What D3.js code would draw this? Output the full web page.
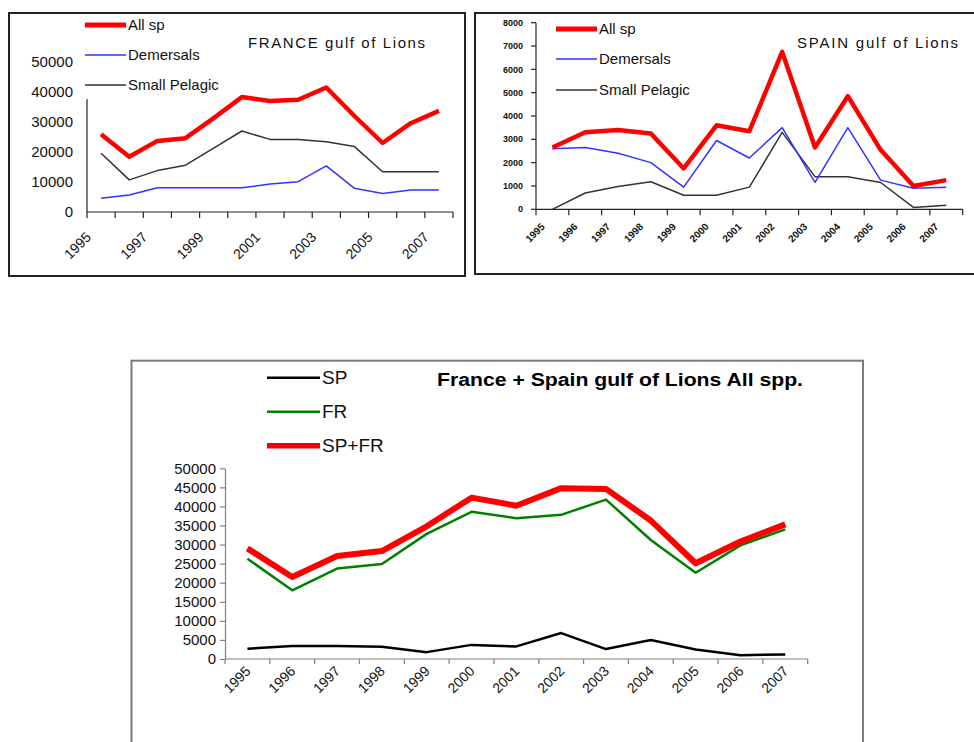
<!DOCTYPE html>
<html>
<head>
<meta charset="utf-8">
<script src="https://cdn.jsdelivr.net/npm/d3@7"></script>
<style>
  body { margin: 0; background: #fff; }
  svg { display: block; font-family: "Liberation Sans", Arial, sans-serif; }
</style>
</head>
<body>
<div id="chart"></div>
<script>
// years shared by all three panels
const years = [1995, 1996, 1997, 1998, 1999, 2000, 2001, 2002, 2003, 2004, 2005, 2006, 2007];

// France gulf of Lions
const frAll = [25900, 18400, 23700, 24600, 31300, 38300, 37000, 37400, 41500, 32000, 23000, 29600, 33700];
const frDem = [4600, 5700, 8100, 8100, 8100, 8100, 9300, 10100, 15400, 7900, 6200, 7300, 7300];
const frPel = [19600, 10700, 13800, 15600, 21300, 27000, 24200, 24200, 23400, 21800, 13400, 13400, 13400];

// Spain gulf of Lions
const spAll = [2650, 3300, 3400, 3250, 1750, 3600, 3350, 6750, 2650, 4850, 2550, 1000, 1250];
const spDem = [2600, 2650, 2400, 2000, 950, 2950, 2200, 3500, 1150, 3500, 1250, 900, 950];
const spPel = [0, 700, 980, 1180, 600, 600, 950, 3300, 1400, 1400, 1150, 80, 170];

// France + Spain
const totSP = [2700, 3400, 3400, 3200, 1800, 3700, 3300, 6800, 2600, 5000, 2500, 1000, 1200];
const totFR = [26300, 18000, 23700, 24900, 32800, 38600, 36900, 37800, 41800, 31200, 22600, 29800, 34000];
const totAll = [29000, 21500, 27000, 28300, 34800, 42300, 40200, 44800, 44600, 36300, 25100, 30800, 35300];

const frTicks = [0, 10000, 20000, 30000, 40000, 50000];
const frLabelYears = [1995, 1997, 1999, 2001, 2003, 2005, 2007];
const spTicks = [0, 1000, 2000, 3000, 4000, 5000, 6000, 7000, 8000];
const totTicks = [0, 5000, 10000, 15000, 20000, 25000, 30000, 35000, 40000, 45000, 50000];

const svg = d3.select("#chart").append("svg")
  .attr("width", 974)
  .attr("height", 742);

function drawLine(g, x, y, values, color, width) {
  const line = d3.line()
    .x((d, i) => x(years[i]) + x.bandwidth() / 2)
    .y((d) => y(d));
  g.append("path")
    .datum(values)
    .attr("fill", "none")
    .attr("stroke", color)
    .attr("stroke-width", width)
    .attr("stroke-linejoin", "round")
    .attr("d", line);
}

function drawLegend(g, items, x0, x1, fontSize) {
  items.forEach((it) => {
    g.append("line")
      .attr("x1", x0).attr("x2", x1)
      .attr("y1", it.y).attr("y2", it.y)
      .attr("stroke", it.color)
      .attr("stroke-width", it.width);
    g.append("text")
      .attr("x", x1 + 2)
      .attr("y", it.y)
      .attr("dy", "0.35em")
      .attr("font-size", fontSize)
      .attr("fill", "#111")
      .text(it.label);
  });
}

// ---------- FRANCE panel ----------
{
  const g = svg.append("g");
  g.append("rect")
    .attr("x", 9).attr("y", 13)
    .attr("width", 456).attr("height", 263)
    .attr("fill", "none")
    .attr("stroke", "#222")
    .attr("stroke-width", 2);

  const x = d3.scaleBand().domain(years).range([87, 453]);
  const y = d3.scaleLinear().domain([0, 50000]).range([212, 62]);

  // y labels (no tick marks), short axis line as in the original
  g.selectAll(".ylab").data(frTicks).join("text")
    .attr("x", 73)
    .attr("y", (d) => y(d))
    .attr("dy", "0.35em")
    .attr("text-anchor", "end")
    .attr("font-size", 15)
    .attr("fill", "#111")
    .text((d) => d);
  g.append("line")
    .attr("x1", 87).attr("x2", 87)
    .attr("y1", y(0)).attr("y2", y(37600))
    .attr("stroke", "#222").attr("stroke-width", 1.2);

  // x axis with boundary ticks
  g.append("line")
    .attr("x1", 87).attr("x2", 453)
    .attr("y1", y(0)).attr("y2", y(0))
    .attr("stroke", "#222").attr("stroke-width", 1.2);
  const bounds = years.map((d) => x(d)).concat([x.range()[1]]);
  g.selectAll(".xt").data(bounds).join("line")
    .attr("x1", (d) => d).attr("x2", (d) => d)
    .attr("y1", y(0)).attr("y2", y(0) + 6)
    .attr("stroke", "#222").attr("stroke-width", 1.2);
  g.selectAll(".xlab").data(frLabelYears).join("text")
    .attr("transform", (d) => `translate(${x(d) + 5},${y(0) + 26}) rotate(-45)`)
    .attr("text-anchor", "end")
    .attr("font-size", 14)
    .attr("fill", "#111")
    .text((d) => d);

  drawLine(g, x, y, frPel, "#333", 1.5);
  drawLine(g, x, y, frDem, "#3333ff", 1.5);
  drawLine(g, x, y, frAll, "#ff0000", 4.5);

  drawLegend(g, [
    { label: "All sp", color: "#ff0000", width: 5, y: 25 },
    { label: "Demersals", color: "#3333ff", width: 1.5, y: 55 },
    { label: "Small Pelagic", color: "#333", width: 1.5, y: 85 }
  ], 85, 126, 15);

  g.append("text")
    .attr("x", 248).attr("y", 43)
    .attr("dy", "0.35em")
    .attr("font-size", 15)
    .attr("textLength", 177)
    .attr("fill", "#111")
    .text("FRANCE gulf of Lions");
}

// ---------- SPAIN panel ----------
{
  const g = svg.append("g");
  g.append("rect")
    .attr("x", 475).attr("y", 13)
    .attr("width", 510).attr("height", 261)
    .attr("fill", "none")
    .attr("stroke", "#222")
    .attr("stroke-width", 2);

  const x = d3.scaleBand().domain(years).range([536, 962.7]);
  const y = d3.scaleLinear().domain([0, 8000]).range([209.3, 22.7]);

  g.append("line")
    .attr("x1", 536).attr("x2", 536)
    .attr("y1", y(0)).attr("y2", y(8000))
    .attr("stroke", "#222").attr("stroke-width", 1.2);
  g.selectAll(".yt").data(spTicks).join("line")
    .attr("x1", 531).attr("x2", 536)
    .attr("y1", (d) => y(d)).attr("y2", (d) => y(d))
    .attr("stroke", "#222").attr("stroke-width", 1.2);
  g.selectAll(".ylab").data(spTicks).join("text")
    .attr("x", 523)
    .attr("y", (d) => y(d))
    .attr("dy", "0.35em")
    .attr("text-anchor", "end")
    .attr("font-size", 9)
    .attr("font-weight", "bold")
    .attr("fill", "#111")
    .text((d) => d);

  g.append("line")
    .attr("x1", 536).attr("x2", 962.7)
    .attr("y1", y(0)).attr("y2", y(0))
    .attr("stroke", "#222").attr("stroke-width", 1.2);
  const bounds = years.map((d) => x(d)).concat([x.range()[1]]);
  g.selectAll(".xt").data(bounds).join("line")
    .attr("x1", (d) => d).attr("x2", (d) => d)
    .attr("y1", y(0)).attr("y2", y(0) + 6)
    .attr("stroke", "#222").attr("stroke-width", 1.2);
  g.selectAll(".xlab").data(years).join("text")
    .attr("transform", (d) => `translate(${x(d) + x.bandwidth() / 2 - 7},${y(0) + 18}) rotate(-45)`)
    .attr("text-anchor", "end")
    .attr("font-size", 10)
    .attr("font-weight", "bold")
    .attr("fill", "#111")
    .text((d) => d);

  drawLine(g, x, y, spPel, "#333", 1.5);
  drawLine(g, x, y, spDem, "#3333ff", 1.5);
  drawLine(g, x, y, spAll, "#ff0000", 4.5);

  drawLegend(g, [
    { label: "All sp", color: "#ff0000", width: 5, y: 29 },
    { label: "Demersals", color: "#3333ff", width: 1.5, y: 59 },
    { label: "Small Pelagic", color: "#333", width: 1.5, y: 90 }
  ], 556, 597, 15);

  g.append("text")
    .attr("x", 797).attr("y", 43)
    .attr("dy", "0.35em")
    .attr("font-size", 15)
    .attr("textLength", 161)
    .attr("fill", "#111")
    .text("SPAIN gulf of Lions");
}

// ---------- FRANCE + SPAIN panel ----------
{
  const g = svg.append("g");
  g.append("rect")
    .attr("x", 131.5).attr("y", 360.7)
    .attr("width", 731.5).attr("height", 420)
    .attr("fill", "none")
    .attr("stroke", "#7a7a7a")
    .attr("stroke-width", 2);

  const x = d3.scaleBand().domain(years).range([225, 807.7]);
  const y = d3.scaleLinear().domain([0, 50000]).range([659, 468.3]);

  const yAxis = d3.axisLeft(y).tickValues(totTicks).tickFormat(d3.format("d")).tickSize(5).tickSizeOuter(0);
  const ya = g.append("g").attr("transform", "translate(225,0)").call(yAxis);
  ya.select(".domain").attr("stroke", "#808080").attr("stroke-width", 1.2);
  ya.selectAll(".tick line").attr("stroke", "#808080").attr("stroke-width", 1.2);
  ya.selectAll(".tick text")
    .attr("font-size", 15)
    .attr("font-family", "Liberation Sans, Arial, sans-serif")
    .attr("fill", "#111")
    .attr("x", -9);

  g.append("line")
    .attr("x1", 225).attr("x2", 807.7)
    .attr("y1", y(0)).attr("y2", y(0))
    .attr("stroke", "#808080").attr("stroke-width", 1.2);
  const bounds = years.map((d) => x(d)).concat([x.range()[1]]);
  g.selectAll(".xt").data(bounds).join("line")
    .attr("x1", (d) => d).attr("x2", (d) => d)
    .attr("y1", y(0)).attr("y2", y(0) + 5)
    .attr("stroke", "#808080").attr("stroke-width", 1.2);
  g.selectAll(".xlab").data(years).join("text")
    .attr("transform", (d) => `translate(${x(d) + x.bandwidth() / 2 + 4},${y(0) + 13}) rotate(-45)`)
    .attr("text-anchor", "end")
    .attr("font-size", 14)
    .attr("fill", "#111")
    .text((d) => d);

  drawLine(g, x, y, totSP, "#000", 2.5);
  drawLine(g, x, y, totFR, "#008000", 2.5);
  drawLine(g, x, y, totAll, "#ff0000", 6);

  drawLegend(g, [
    { label: "SP", color: "#000", width: 2.5, y: 377.7 },
    { label: "FR", color: "#008000", width: 2.5, y: 411.7 },
    { label: "SP+FR", color: "#ff0000", width: 5.5, y: 445.7 }
  ], 267, 320, 19);

  g.append("text")
    .attr("x", 437).attr("y", 386)
    .attr("font-size", 18)
    .attr("font-weight", "bold")
    .attr("textLength", 366)
    .attr("lengthAdjust", "spacingAndGlyphs")
    .attr("fill", "#000")
    .text("France + Spain gulf of Lions All spp.");
}
</script>
</body>
</html>
